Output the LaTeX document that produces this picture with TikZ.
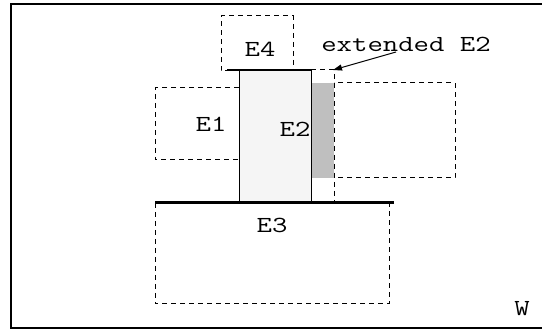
\documentclass[tikz,border=0pt]{standalone}
\usepackage{fontspec}
\usetikzlibrary{arrows.meta}
\newcommand{\widetext}[1]{\scalebox{1.3}[1]{#1}}
\begin{document}
\begin{tikzpicture}[x=1pt,y=-1pt,
  region/.style={draw=black,line width=1pt,dash pattern=on 5pt off 4pt},
  edge/.style={draw=black,line width=2.6pt},
  lbl/.style={font=\ttfamily\fontsize{23}{23}\selectfont,inner sep=0pt}]
\useasboundingbox (0,0) rectangle (542,331);
% window frame
\draw[line width=2pt] (560,4.5) -- (11,4.5) -- (11,328) -- (560,328);
% element E2 and its extension
\fill[black!4] (239,70) rectangle (311,202);
\fill[black!25] (311,83) rectangle (334,178);
\draw[line width=1pt] (239,202) -- (239,70) -- (311,70) -- (311,202);
\draw[region] (311,70) -- (334,70) -- (334,202);
% neighbouring regions
\draw[region] (239,71) -- (221,71) -- (221,16) -- (293,16) -- (293,71);
\draw[region] (239,88) -- (155,88) -- (155,160) -- (239,160);
\draw[region] (334,83) rectangle (455,178);
\draw[region] (155,203) -- (155,304) -- (389,304) -- (389,203);
% shared edges
\draw[edge] (227,70) -- (311,70);
\draw[edge] (155,202.5) -- (394,202.5);
% labels
\node[lbl] (e4) at (260,49) {\widetext{E4}};
\node[lbl] (e1) at (211,124) {\widetext{E1}};
\node[lbl] (e2) at (295,129) {\widetext{E2}};
\node[lbl] (e3) at (272,225) {\widetext{E3}};
\node[lbl] (w) at (522,309) {\widetext{W}};
\node[lbl] (ext) at (406,44) {\widetext{extended E2}};
\coordinate (tip) at (333,70);
\draw[line width=1pt,-{Triangle[length=9pt,width=6pt]}] (396,52) -- (tip);
\end{tikzpicture}
\end{document}
